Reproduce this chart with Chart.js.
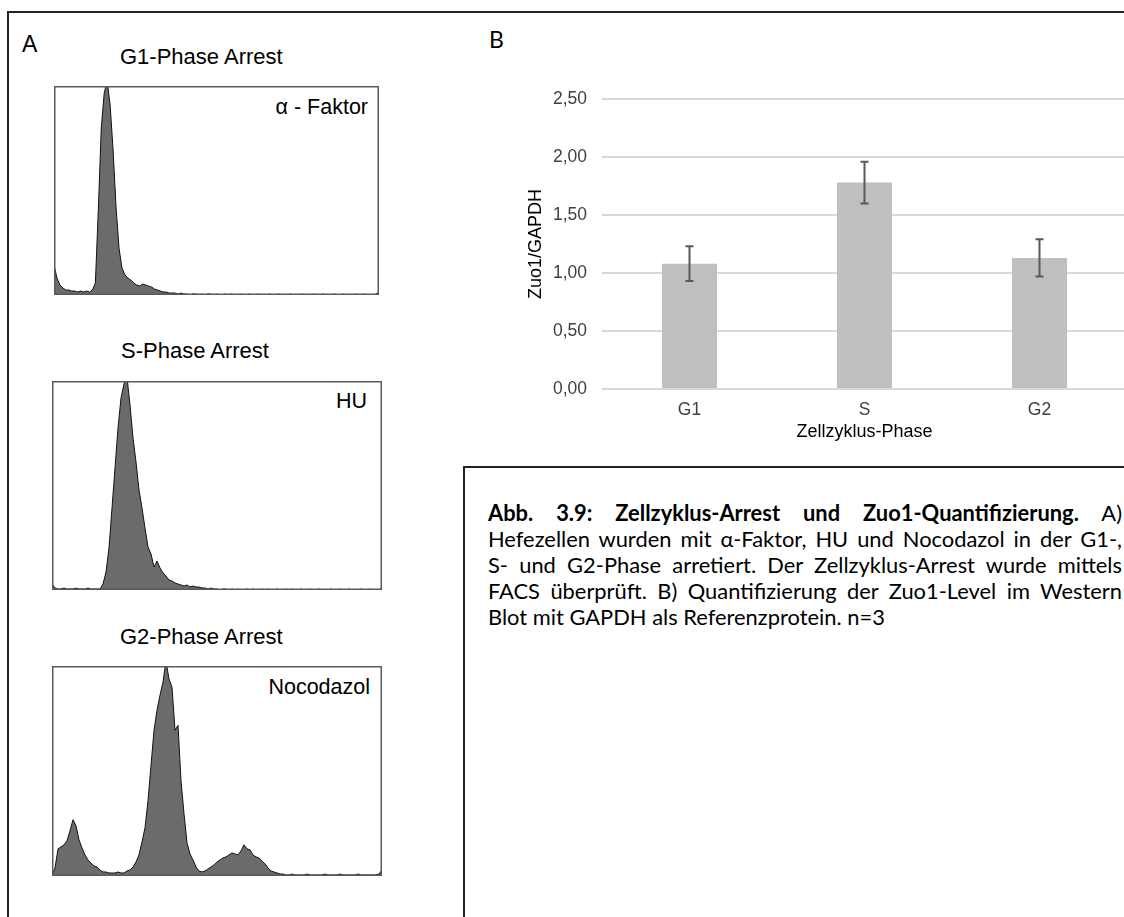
<!DOCTYPE html>
<html><head><meta charset="utf-8">
<script src="https://cdn.jsdelivr.net/npm/chart.js@4.4.1/dist/chart.umd.min.js"></script>
<style>
html,body{margin:0;padding:0;width:1124px;height:917px;overflow:hidden;background:#fff;}
.ln{position:absolute;background:#222;}
.t{position:absolute;white-space:nowrap;line-height:1;color:#000;font-family:"Liberation Sans",Arial,sans-serif;}
.cap{position:absolute;left:488px;top:500px;width:634px;font-family:Lato,"Open Sans",sans-serif;color:#000;}
.cap div{white-space:nowrap;height:26px;line-height:26px;text-align:justify;text-align-last:justify;}
.cap div.last{text-align:left;text-align-last:left;}
canvas{position:absolute;}
</style></head><body>

<!-- frames -->
<div class="ln" style="left:7px;top:11px;width:1117px;height:1.5px"></div>
<div class="ln" style="left:7px;top:11px;width:1.5px;height:906px"></div>
<div class="ln" style="left:463px;top:466px;width:661px;height:1.5px"></div>
<div class="ln" style="left:463px;top:466px;width:1.5px;height:451px"></div>

<div class="t" style="left:22px;top:33px;font-size:23px">A</div>
<div class="t" style="left:489px;top:28px;font-size:23px;font-family:Lato,sans-serif">B</div>

<div class="t" id="ttl1" style="top:46px;font-size:22px"></div>
<div class="t" id="ttl2" style="top:340px;font-size:22px"></div>
<div class="t" id="ttl3" style="top:626px;font-size:22px"></div>
<div class="t" id="tag1" style="top:97px;right:756px;font-size:21.5px"></div>
<div class="t" id="tag2" style="top:391px;right:757px;font-size:21.5px"></div>
<div class="t" id="tag3" style="top:677px;right:754px;font-size:21.5px"></div>

<canvas id="h1" width="325" height="209" style="left:54px;top:86px"></canvas>
<canvas id="h2" width="330" height="209" style="left:52px;top:381px"></canvas>
<canvas id="h3" width="330" height="210" style="left:52px;top:666px"></canvas>
<canvas id="bar" width="627" height="384" style="left:500px;top:60px"></canvas>

<div class="cap" id="cap"></div>

<script>
// ---------- Panel A: FACS histograms (counts per channel bin) ----------
const histTitles = ['G1-Phase Arrest', 'S-Phase Arrest', 'G2-Phase Arrest'];
const histTags = ['α - Faktor', 'HU', 'Nocodazol'];
const histG1 = [30,17,10,7,5,5,4,4,3,4,3,4,3,5,12,85,167,202,214,190,145,88,47,27,20,17,15,12,10,9,11,10,9,8,6,5,4,3,3,2,2,2,1,2,1,1,0,1,1,0,1,0,1,1,0,1,0,0,1,0,1,0,0,1,0,0,1,0,0,1,0,0,0,1,0,0,1,0,0,0,1,0,0,0,1,0,0,0,1,0,0,1,0,0,0,1,0,0,1,0,0,0,1,0,0,1,0,0,0,1,3];
const histS = [6,2,1,1,2,1,1,1,2,1,1,1,2,1,1,1,1,6,18,42,82,122,162,192,206,213,185,152,128,100,82,62,43,36,23,29,22,17,14,10,9,7,6,5,4,5,3,4,3,3,2,2,1,2,1,1,0,1,1,0,1,0,1,0,0,1,0,1,0,0,1,0,1,0,0,1,0,0,1,0,1,0,0,1,0,0,1,0,0,1,0,0,0,1,0,0,1,0,0,1,0,0,0,1,0,0,1,0,0,0,2];
const histG2 = [0,8,27,29,31,35,45,56,50,36,28,21,16,13,10,9,6,4,4,3,3,3,4,3,3,5,6,9,14,21,34,48,75,110,145,165,180,193,214,196,188,145,150,95,62,33,22,16,9,5,4,5,7,9,11,14,16,18,19,21,23,22,21,25,31,27,26,21,19,18,15,12,8,5,4,3,2,2,1,1,2,1,1,1,1,2,1,1,1,1,1,2,1,1,1,1,2,1,1,1,1,1,2,1,1,1,1,1,1,2,6];
const histMaxCount = 209;

// ---------- Panel B: Zuo1 / GAPDH ----------
const phases = ['G1', 'S', 'G2'];
const zuoMean = [1.08, 1.78, 1.13];
const zuoErr = [0.15, 0.18, 0.16];
const yTicks = [0, 0.5, 1, 1.5, 2, 2.5];
const yTickLabels = ['0,00', '0,50', '1,00', '1,50', '2,00', '2,50'];

const captionLines = [
  '<b>Abb. 3.9: Zellzyklus-Arrest und Zuo1-Quantifizierung.</b> A)',
  'Hefezellen wurden mit α-Faktor, HU und Nocodazol in der G1-,',
  'S- und G2-Phase arretiert. Der Zellzyklus-Arrest wurde mittels',
  'FACS überprüft. B) Quantifizierung der Zuo1-Level im Western',
  'Blot mit GAPDH als Referenzprotein. n=3'
];

// titles & tags
[['ttl1',histTitles[0],201.5],['ttl2',histTitles[1],195],['ttl3',histTitles[2],201.5]].forEach(([id,txt,cx])=>{
  const el=document.getElementById(id); el.textContent=txt;
  el.style.left=(cx - el.offsetWidth/2)+'px';
});
document.getElementById('tag1').textContent=histTags[0];
document.getElementById('tag2').textContent=histTags[1];
document.getElementById('tag3').textContent=histTags[2];

// caption
(function(){
  const cap=document.getElementById('cap');
  const m=document.createElement('canvas').getContext('2d');
  m.font='20px Lato';
  const w=m.measureText(captionLines[4]).width;
  const fs=20*397/w;
  cap.style.fontSize=fs.toFixed(2)+'px';
  captionLines.forEach((l,i)=>{
    const d=document.createElement('div'); d.innerHTML=l;
    if(i===captionLines.length-1) d.className='last';
    cap.appendChild(d);
  });
})();

Chart.defaults.animation=false;
Chart.defaults.devicePixelRatio=1;

const framePlugin={id:'frame',afterDatasetsDraw(c){
  const a=c.chartArea,ctx=c.ctx;ctx.save();ctx.strokeStyle='#5a5a5a';ctx.lineWidth=1.5;
  ctx.strokeRect(a.left+0.75,a.top+0.75,a.width-1.5,a.height-1.5);ctx.restore();}};

function hist(id,vals){
  new Chart(document.getElementById(id),{
    type:'line',
    data:{datasets:[{data:vals.map((v,i)=>({x:i,y:v})),borderColor:'#111',borderWidth:1,
      backgroundColor:'#6b6b6b',fill:'origin',pointRadius:0,tension:0}]},
    options:{responsive:false,layout:{padding:0},
      plugins:{legend:{display:false},tooltip:{enabled:false}},
      scales:{x:{type:'linear',min:0,max:vals.length-1,display:false},
              y:{min:0,max:histMaxCount,display:false}}},
    plugins:[framePlugin]
  });
}
hist('h1',histG1);hist('h2',histS);hist('h3',histG2);

const errPlugin={id:'err',afterDatasetsDraw(c){
  const ctx=c.ctx,xs=c.scales.x,ys=c.scales.y;ctx.save();
  ctx.strokeStyle='#595959';ctx.lineWidth=2;
  zuoMean.forEach((m,i)=>{
    const x=xs.getPixelForValue(i),t=ys.getPixelForValue(m+zuoErr[i]),b=ys.getPixelForValue(m-zuoErr[i]);
    ctx.beginPath();ctx.moveTo(x,t);ctx.lineTo(x,b);
    ctx.moveTo(x-4,t);ctx.lineTo(x+4,t);ctx.moveTo(x-4,b);ctx.lineTo(x+4,b);ctx.stroke();
  });ctx.restore();}};

const fTick={family:'"Liberation Sans", Arial, sans-serif',size:17.5};
const fTitle={family:'"Liberation Sans", Arial, sans-serif',size:18};
new Chart(document.getElementById('bar'),{
  type:'bar',
  data:{labels:phases,datasets:[{data:zuoMean,backgroundColor:'#bfbfbf',barPercentage:0.314,categoryPercentage:1}]},
  options:{responsive:false,layout:{padding:{top:39,left:0,right:0,bottom:0}},
    plugins:{legend:{display:false},tooltip:{enabled:false}},
    scales:{
      x:{grid:{display:false,drawTicks:false},border:{display:false},
         ticks:{color:'#404040',font:fTick,padding:11},
         title:{display:true,text:'Zellzyklus-Phase',color:'#000',font:fTitle,padding:{top:0,bottom:1}},
         afterFit:s=>{s.height=55;}},
      y:{min:0,max:2.5,afterBuildTicks:s=>{s.ticks=yTicks.map(v=>({value:v}));},
         ticks:{color:'#404040',font:fTick,padding:15,callback:(v,i)=>yTickLabels[i]},
         grid:{color:'#d9d9d9',lineWidth:2,drawTicks:false},border:{display:false},
         title:{display:true,text:'Zuo1/GAPDH',color:'#000',font:fTitle,padding:{top:25,bottom:0}},
         afterFit:s=>{s.width=102;}}
    }},
  plugins:[errPlugin]
});
</script>
</body></html>
